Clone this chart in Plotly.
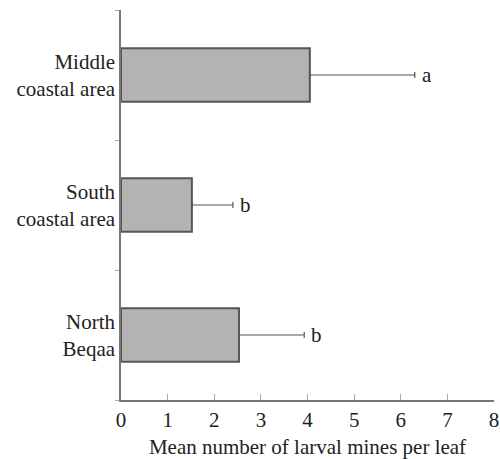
import plotly.graph_objects as go

categories = ["Middle<br>coastal area", "South<br>coastal area", "North<br>Beqaa"]
means = [4.05, 1.52, 2.53]
errors = [2.25, 0.88, 1.40]
letters = ["a", "b", "b"]
x_ticks = [0, 1, 2, 3, 4, 5, 6, 7, 8]

font_family = "Liberation Serif"

fig = go.Figure()
fig.add_trace(go.Bar(
    y=categories, x=means, orientation="h", width=0.41,
    marker=dict(color="#b3b3b3", line=dict(color="#555555", width=2)),
    error_x=dict(type="data", array=errors, arrayminus=[0] * len(errors),
                 symmetric=False, visible=True,
                 color="#555555", thickness=1.2, width=3),
    showlegend=False,
))

for c, m, e, l in zip(categories, means, errors, letters):
    fig.add_annotation(x=m + e, y=c, text=l, showarrow=False,
                       xanchor="left", xshift=5,
                       font=dict(family=font_family, size=21, color="#222222"))

fig.update_layout(
    width=500, height=459,
    margin=dict(l=121, r=6, t=10, b=59, autoexpand=False),
    plot_bgcolor="white", paper_bgcolor="white",
    font=dict(family=font_family, size=21, color="#222222"),
)
fig.update_xaxes(
    range=[0, 8], tickvals=x_ticks, ticktext=[str(v) for v in x_ticks],
    showgrid=False, zeroline=False, automargin=False,
    showline=True, linecolor="#777777", linewidth=1.5,
    ticks="inside", ticklen=6, tickcolor="#aaaaaa",
    tickfont=dict(family=font_family, size=21),
    title=dict(text="Mean number of larval mines per leaf",
               font=dict(family=font_family, size=21), standoff=12),
)
fig.update_yaxes(
    type="category", categoryorder="array",
    categoryarray=categories[::-1],
    tickson="boundaries", automargin=False,
    showgrid=False, zeroline=False,
    showline=True, linecolor="#777777", linewidth=1.5,
    ticks="outside", ticklen=4, tickcolor="#aaaaaa",
    tickfont=dict(family=font_family, size=21),
)

fig.write_html("out.html")
